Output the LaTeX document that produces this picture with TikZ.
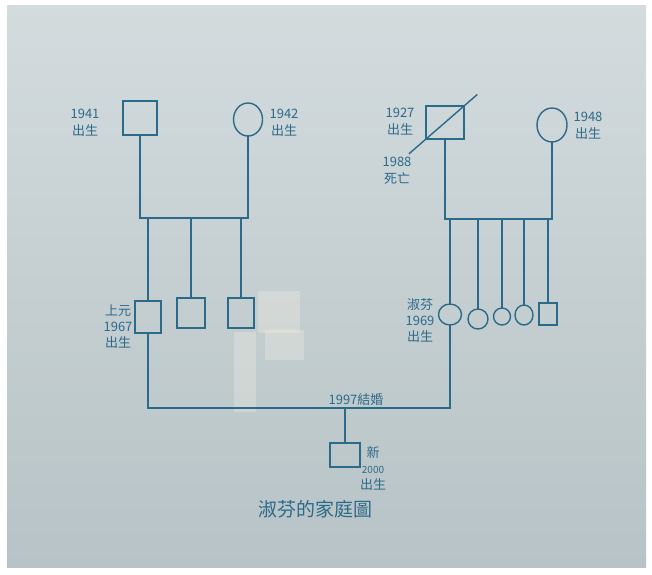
\documentclass[tikz,border=0pt]{standalone}
\usepackage{fontspec}
\setmainfont{Noto Sans CJK TC}
\usepackage{xcolor}
\definecolor{GenoInk}{HTML}{2C6A8A}
\definecolor{GenoPaper}{HTML}{D3DBDD}
\definecolor{GenoPaperDark}{HTML}{B7C3C6}
\definecolor{GenoTape}{HTML}{EFECE0}
\usetikzlibrary{calc, positioning, shapes.geometric}
\tikzset{
  male/.style={rectangle, draw=GenoInk, line width=1.4pt, inner sep=0pt, outer sep=0pt},
  female/.style={ellipse, draw=GenoInk, line width=1.4pt, inner sep=0pt, outer sep=0pt},
  note/.style={text=GenoInk, font=\fontsize{13}{17}\selectfont, align=center, inner sep=0pt},
  kin/.style={draw=GenoInk, line width=1.4pt},
  tape/.style={fill=GenoTape, fill opacity=0.35, draw=none}
}
\begin{document}
\begin{tikzpicture}[x=1pt, y=-1pt]
% paper and tape
\fill[white] (0,0) rectangle (652,574);
\shade[top color=GenoPaper, bottom color=GenoPaperDark] (7,5) rectangle (646,567);
\fill[tape] (258,291) rectangle (300,333);
\fill[tape] (265,330) rectangle (304,360);
\fill[tape] (234,332) rectangle (256,412);

% grandparents
\node[male, minimum width=34, minimum height=34] (gpaL) at (140,118) {};
\node[female, minimum width=29, minimum height=33] (gmaL) at (248,119.5) {};
\node[male, minimum width=38, minimum height=33] (gpaR) at (445,122.5) {};
\node[female, minimum width=30, minimum height=34] (gmaR) at (552,125) {};

\node[note] (gpaLlab) at (85,123) {1941\\出生};
\node[note] (gmaLlab) at (284,123) {1942\\出生};
\node[note] (gpaRlab) at (400,122) {1927\\出生};
\node[note] (gpaRdied) at (397,171) {1988\\死亡};
\node[note] (gmaRlab) at (588,126) {1948\\出生};

\draw[kin] ($(gpaR.south west)!-0.45!(gpaR.north east)$)
  -- ($(gpaR.north east)!-0.35!(gpaR.south west)$);

% children, left side
\node[male, minimum width=26, minimum height=32] (fa) at (148,317) {};
\node[male, minimum width=28, minimum height=30] (bro1) at (191,313) {};
\node[male, minimum width=26, minimum height=30] (bro2) at (241,313) {};
\node[note, font=\fontsize{13}{16}\selectfont] (falab) at (118,327) {上元\\1967\\出生};

% children, right side
\node[female, minimum width=23, minimum height=21] (mom) at (450,314.5) {};
\node[female, minimum width=20, minimum height=20] (sis1) at (478,319) {};
\node[female, minimum width=17, minimum height=17] (sis2) at (502,316.5) {};
\node[female, minimum width=18, minimum height=20] (sis3) at (524,315) {};
\node[male, minimum width=18, minimum height=22] (broR) at (548,314) {};
\node[note, font=\fontsize{13}{16}\selectfont] (momlab) at (420,321) {淑芬\\1969\\出生};

% sibling lines
\coordinate (sibL) at (0,218);
\coordinate (sibR) at (0,219);
\draw[kin] (gpaL.south) -- (gpaL.south |- sibL) -- (gmaL.south |- sibL) -- (gmaL.south);
\draw[kin] (gpaR.south) -- (gpaR.south |- sibR) -- (gmaR.south |- sibR) -- (gmaR.south);
\foreach \k in {fa, bro1, bro2}
  \draw[kin] (\k.north) -- (\k.north |- sibL);
\foreach \k in {mom, sis1, sis2, sis3, broR}
  \draw[kin] (\k.north) -- (\k.north |- sibR);

% marriage and child
\coordinate (wed) at (0,408);
\draw[kin] (fa.south) -- (fa.south |- wed) -- (mom.south |- wed) -- (mom.south);
\node[note] (wedlab) at (356,400) {1997結婚};

\node[male, minimum width=30, minimum height=24] (kid) at (345,455) {};
\draw[kin] (kid.north) -- (kid.north |- wed);
\node[note, font=\fontsize{13}{16}\selectfont] (kidlab) at (373,468)
  {新\\{\fontsize{10}{12}\selectfont 2000}\\出生};

\node[note, font=\fontsize{19}{22}\selectfont] (title) at (315,509) {淑芬的家庭圖};
\end{tikzpicture}
\end{document}
